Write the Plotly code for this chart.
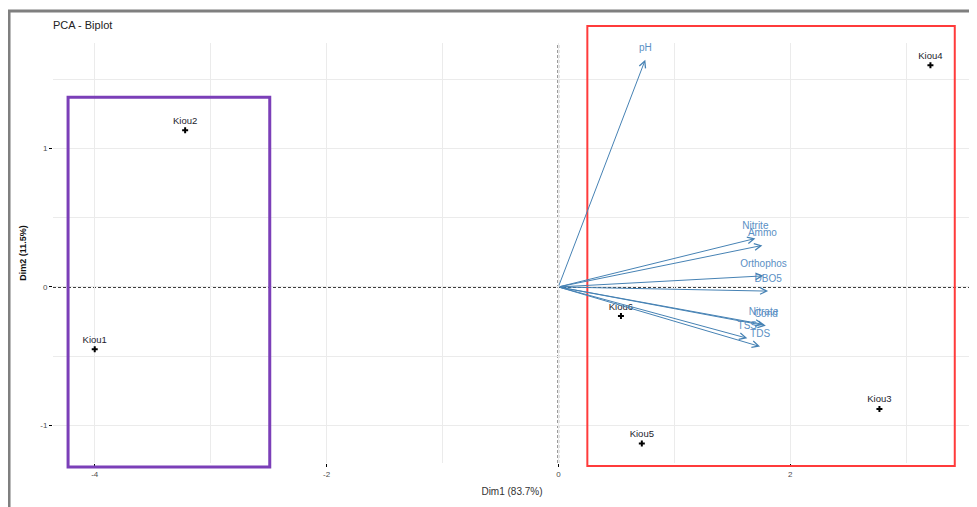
import plotly.graph_objects as go

# Individuals (scores)
ind_names = ["Kiou1", "Kiou2", "Kiou3", "Kiou4", "Kiou5", "Kiou6"]
ind_x = [-4.00, -3.22, 2.77, 3.21, 0.72, 0.54]
ind_y = [-0.45, 1.13, -0.88, 1.60, -1.13, -0.21]

# Variables (loadings, arrow tips)
var_names = ["pH", "Nitrite", "Ammo", "Orthophos", "DBO5", "Nitrate", "Cond", "TSS", "TDS"]
var_x = [0.75, 1.70, 1.76, 1.77, 1.81, 1.77, 1.79, 1.63, 1.74]
var_y = [1.64, 0.35, 0.30, 0.08, -0.03, -0.27, -0.28, -0.37, -0.43]

# Group boxes (data x-extent)
group_left = [-4.23, -2.49]
group_right = [0.25, 3.42]

x_ticks = [-4, -2, 0, 2]
y_ticks = [-1, 0, 1]

FONT = "Liberation Sans, Arial, sans-serif"
ARROW = "#4682B4"

fig = go.Figure()

# variable labels
fig.add_trace(go.Scatter(
    x=var_x, y=var_y, mode="markers+text", text=var_names,
    textposition="top center",
    marker=dict(size=9, opacity=0),
    textfont=dict(family=FONT, size=10, color="#5B8FC4"),
    hoverinfo="text", showlegend=False,
))

# individuals
fig.add_trace(go.Scatter(
    x=ind_x, y=ind_y, mode="markers+text", text=ind_names,
    textposition="top center",
    marker=dict(symbol="cross", size=5, color="black"),
    textfont=dict(family=FONT, size=9.5, color="#1c1c2c"),
    hoverinfo="text", showlegend=False,
))

annotations = []
for name, vx, vy in zip(var_names, var_x, var_y):
    annotations.append(dict(
        x=vx, y=vy, ax=0, ay=0, xref="x", yref="y", axref="x", ayref="y",
        text="", showarrow=True, arrowhead=5, arrowsize=1.3, arrowwidth=1,
        arrowcolor=ARROW, standoff=0, startstandoff=0,
    ))

shapes = [
    # zero lines
    dict(type="line", xref="x", yref="paper", x0=0, x1=0, y0=0, y1=1,
         line=dict(color="black", width=1.5, dash="3px,2px"), layer="below"),
    dict(type="line", xref="paper", yref="y", x0=0, x1=1, y0=0, y1=0,
         line=dict(color="black", width=1.5, dash="3px,2px"), layer="below"),
    # group boxes
    dict(type="rect", xref="x", yref="paper", x0=group_left[0], x1=group_left[1],
         y0=-0.0095, y1=0.871, line=dict(color="#7B3FB8", width=3)),
    dict(type="rect", xref="x", yref="paper", x0=group_right[0], x1=group_right[1],
         y0=-0.007, y1=1.0405, line=dict(color="#FF3B3B", width=2)),
    # outer frame
    dict(type="rect", xref="paper", yref="paper", x0=-0.0479, x1=1.2,
         y0=-0.3, y1=1.076, line=dict(color="#7f7f7f", width=3)),
]

fig.update_layout(
    width=977, height=507,
    margin=dict(l=45, r=14, t=35, b=52),
    paper_bgcolor="white", plot_bgcolor="white",
    font=dict(family=FONT, size=9, color="#4d4d4d"),
    title=dict(text="PCA - Biplot", x=0, xref="paper", xanchor="left",
               y=1 - 17 / 507, yref="container", yanchor="middle",
               font=dict(family=FONT, size=11, color="#222222")),
    annotations=annotations,
    shapes=shapes,
)

fig.update_xaxes(
    range=[-4.36, 3.56], tickvals=x_ticks, ticktext=[str(v) for v in x_ticks],
    showgrid=True, gridcolor="#EBEBEB", gridwidth=1, zeroline=False,
    ticks="outside", ticklen=3, tickcolor="black", tickwidth=1,
    tickfont=dict(size=8, color="#4d4d4d"),
    minor=dict(tickvals=[-3, -1, 1, 3], showgrid=True, gridcolor="#EBEBEB", gridwidth=1),
    showline=False,
    title=dict(text="Dim1 (83.7%)", standoff=10, font=dict(size=10, color="#333333")),
)
fig.update_yaxes(
    range=[-1.27, 1.76], tickvals=y_ticks, ticktext=[str(v) for v in y_ticks],
    showgrid=True, gridcolor="#EBEBEB", gridwidth=1, zeroline=False,
    ticks="outside", ticklen=3, tickcolor="black", tickwidth=1,
    tickfont=dict(size=8, color="#4d4d4d"),
    minor=dict(tickvals=[-0.5, 0.5, 1.5], showgrid=True, gridcolor="#EBEBEB", gridwidth=1),
    showline=False,
    title=dict(text="<b>Dim2 (11.5%)</b>", standoff=12, font=dict(size=9, color="#111111")),
)

fig.write_html("out.html")
